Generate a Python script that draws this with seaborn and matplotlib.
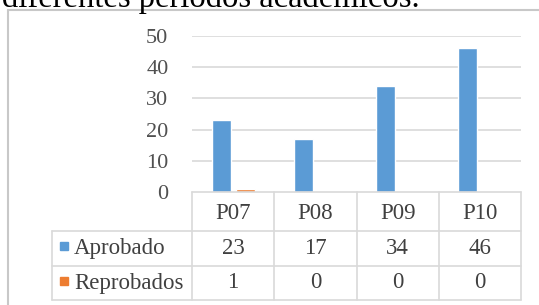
import pandas as pd
import seaborn as sns
import matplotlib.pyplot as plt
from matplotlib.lines import Line2D
from matplotlib.patches import Rectangle

# Data
periods = ["P07", "P08", "P09", "P10"]
series_names = ["Aprobado", "Reprobados"]
aprobado = [23, 17, 34, 46]
reprobados = [1, 0, 0, 0]
y_ticks = [0, 10, 20, 30, 40, 50]

colors = ["#5B9BD5", "#ED7D31"]
grid_color = "#d9d9d9"
text_color = "#404040"
W, H = 539, 305

df = pd.DataFrame({
    "periodo": periods * 2,
    "serie": [series_names[0]] * 4 + [series_names[1]] * 4,
    "valor": aprobado + reprobados,
})

sns.set_theme(style="white")
plt.rcParams["font.family"] = ["Liberation Serif", "DejaVu Serif"]

fig = plt.figure(figsize=(W / 100, H / 100), dpi=100)
# plot area in pixels: x 192..521, y 36..192 (from top)
ax = fig.add_axes([192 / W, 1 - 192 / H, (521 - 192) / W, (192 - 36) / H])

sns.barplot(data=df, x="periodo", y="valor", hue="serie", palette=colors,
            width=0.58, gap=0.2, ax=ax, legend=False, saturation=1)

ax.set_ylim(0, 50)
ax.set_xlim(-0.5, len(periods) - 0.5)
ax.set_yticks(y_ticks)
ax.set_yticklabels([str(t) for t in y_ticks], fontsize=16, color="#505050")
ax.tick_params(axis="y", length=0, pad=17)
ax.set_xticks([])
ax.set_xlabel("")
ax.set_ylabel("")
for s in ax.spines.values():
    s.set_visible(False)
for t in y_ticks[1:]:
    ax.axhline(t, color=grid_color, lw=1.2, zorder=0)

# data table below the plot (x in data units, y in axes fraction)
px = 1 / (192 - 36)
tr = ax.get_xaxis_transform()
row_edges = [0, -39 * px, -74 * px, -108 * px]
left_x = -0.5 - 140 / 82.25
n = len(periods)
kw = dict(color=grid_color, lw=1.2, transform=tr, clip_on=False)
ax.add_line(Line2D([-0.5, n - 0.5], [0, 0], **kw))
for yy in row_edges[1:]:
    ax.add_line(Line2D([left_x, n - 0.5], [yy, yy], **kw))
for i in range(n + 1):
    ax.add_line(Line2D([i - 0.5, i - 0.5], [0, row_edges[-1]], **kw))
ax.add_line(Line2D([left_x, left_x], [row_edges[1], row_edges[-1]], **kw))

def mid(i):
    return (row_edges[i] + row_edges[i + 1]) / 2

for i, p in enumerate(periods):
    ax.text(i, mid(0) - 2 * px, p, transform=tr, ha="center", va="center",
            fontsize=16.5, color=text_color)
for r, vals in enumerate([aprobado, reprobados]):
    for i, v in enumerate(vals):
        ax.text(i, mid(r + 1), str(v), transform=tr, ha="center", va="center",
                fontsize=16.5, color=text_color)
    ax.text(left_x + 22 / 82.25, mid(r + 1), series_names[r], transform=tr,
            ha="left", va="center", fontsize=16.5, color=text_color)
    yc = 1 - (248.5 + 35 * r) / H
    fig.patches.append(Rectangle((60 / W, yc - 1 / H), 7.5 / W, 8 / H,
                                 transform=fig.transFigure, color=colors[r]))

# chart frame and the cut-off caption above it
fig.add_artist(Line2D([7.5 / W, 7.5 / W], [0, 1 - 10 / H], color="#c8c8c8",
                      lw=1.5, transform=fig.transFigure))
fig.add_artist(Line2D([7.5 / W, 1], [1 - 10 / H, 1 - 10 / H], color="#c8c8c8",
                      lw=1.5, transform=fig.transFigure))
fig.text(2 / W, 1 - 7 / H, "diferentes periodos académicos.", fontsize=23.5,
         color="black", va="baseline", ha="left")

fig.savefig("out.png", dpi=100)
